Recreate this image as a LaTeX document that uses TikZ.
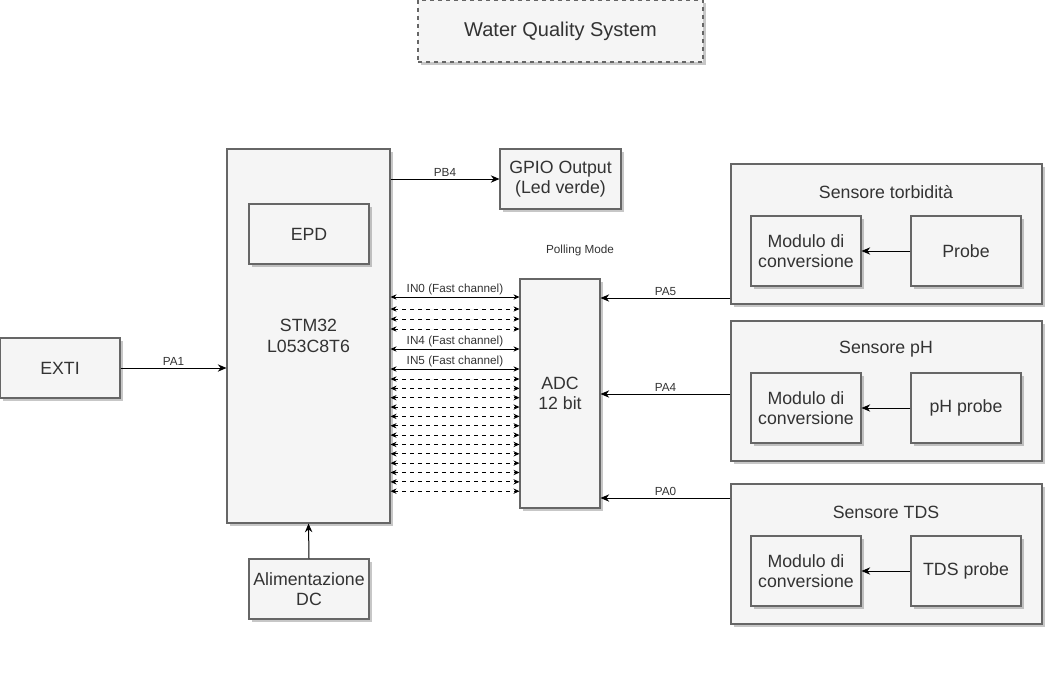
\documentclass[tikz,border=0pt]{standalone}
\usepackage{fontspec}
\setmainfont{Liberation Sans}
\usepackage{tikz}
\usetikzlibrary{arrows.meta, positioning, shadows}
\definecolor{boxfill}{HTML}{F5F5F5}
\definecolor{boxline}{HTML}{666666}
\definecolor{boxtext}{HTML}{333333}
\tikzset{
  block/.style={draw=boxline, fill=boxfill, text=boxtext, line width=0.8pt, align=center,
    font=\fontsize{13.3}{15.5}\selectfont, inner sep=2pt,
    drop shadow={shadow xshift=2.2pt, shadow yshift=-2.2pt, fill=black, opacity=0.22}},
  smallbox/.style={block, minimum width=82.5pt, minimum height=52.5pt},
  sensorbox/.style={block, minimum width=233.25pt, minimum height=105pt},
  sensortitle/.style={text=boxtext, font=\fontsize{13.3}{15.5}\selectfont, inner sep=0pt},
  pinlabel/.style={font=\fontsize{8.8}{10}\selectfont, text=boxtext, inner sep=1.5pt},
  wire/.style={line width=0.75pt, -{Stealth[length=6.5pt, width=5.5pt]}},
  chan/.style={line width=0.6pt, {Stealth[length=4.5pt, width=4pt]}-{Stealth[length=4.5pt, width=4pt]}},
}

\begin{document}
\begin{tikzpicture}[x=0.75pt, y=-0.75pt]
  \useasboundingbox (0,0) rectangle (1045,692);

  % Title
  \node[block, dashed, minimum width=213.75pt, minimum height=46.5pt,
    font=\fontsize{15}{17}\selectfont] (title) at (560.5,31) {Water Quality System};

  % Microcontroller and its neighbours
  \node[block, minimum width=122.25pt, minimum height=280.5pt] (stm) at (308.5,336) {STM32\\L053C8T6};
  \node[block, minimum width=90pt, minimum height=45pt] (epd) at (309,234) {EPD};
  \node[block, minimum width=90pt, minimum height=45pt] (exti) at (60,368) {EXTI};
  \node[block, minimum width=90pt, minimum height=45pt] (alim) at (309,589) {Alimentazione\\DC};
  \node[block, minimum width=90.75pt, minimum height=45pt] (gpio) at (560.5,179) {GPIO Output\\(Led verde)};
  \node[block, minimum width=60pt, minimum height=171.75pt] (adc) at (560,393.5) {ADC\\12 bit};
  \node[pinlabel] (polling) at (580,250) {Polling Mode};

  % Sensore torbidita
  \node[sensorbox] (torb) at (886.5,234) {};
  \node[sensortitle] (torbtitle) at (886,192) {Sensore torbidità};
  \node[smallbox] (torbmod) at (806,251) {Modulo di\\conversione};
  \node[smallbox] (torbprobe) at (966,251) {Probe};

  % Sensore pH
  \node[sensorbox] (ph) at (886.5,391) {};
  \node[sensortitle] (phtitle) at (886,349) {Sensore pH};
  \node[smallbox] (phmod) at (806,408) {Modulo di\\conversione};
  \node[smallbox] (phprobe) at (966,408) {pH probe};

  % Sensore TDS
  \node[sensorbox] (tds) at (886.5,554) {};
  \node[sensortitle] (tdstitle) at (886,512) {Sensore TDS};
  \node[smallbox] (tdsmod) at (806,571) {Modulo di\\conversione};
  \node[smallbox] (tdsprobe) at (966,571) {TDS probe};

  % Probe -> modulo
  \draw[wire] (torbprobe.west) -- (torbmod.east);
  \draw[wire] (phprobe.west) -- (phmod.east);
  \draw[wire] (tdsprobe.west) -- (tdsmod.east);

  % Pins
  \draw[wire] (exti.east) -- node[pinlabel, above] {PA1} (stm.west |- exti.east);
  \draw[wire] (stm.east |- gpio.west) -- node[pinlabel, above] {PB4} (gpio.west);
  \draw[wire] (alim.north) -- (stm.south);
  \draw[wire] (torb.west |- 0,298) -- node[pinlabel, above] {PA5} (adc.east |- 0,298);
  \draw[wire] (ph.west |- 0,394) -- node[pinlabel, above] {PA4} (adc.east |- 0,394);
  \draw[wire] (tds.west |- 0,498) -- node[pinlabel, above] {PA0} (adc.east |- 0,498);

  % ADC channels
  \draw[chan] (stm.east |- 0,297) -- node[pinlabel, above] {IN0 (Fast channel)} (adc.west |- 0,297);
  \draw[chan] (stm.east |- 0,349) -- node[pinlabel, above] {IN4 (Fast channel)} (adc.west |- 0,349);
  \draw[chan] (stm.east |- 0,369) -- node[pinlabel, above] {IN5 (Fast channel)} (adc.west |- 0,369);
  \foreach \y in {309,319,329}
    \draw[chan, dashed] (stm.east |- 0,\y) -- (adc.west |- 0,\y);
  \foreach \k [evaluate=\k as \y using 379+9.35*\k] in {0,...,12}
    \draw[chan, dashed] (stm.east |- 0,\y) -- (adc.west |- 0,\y);
\end{tikzpicture}
\end{document}
